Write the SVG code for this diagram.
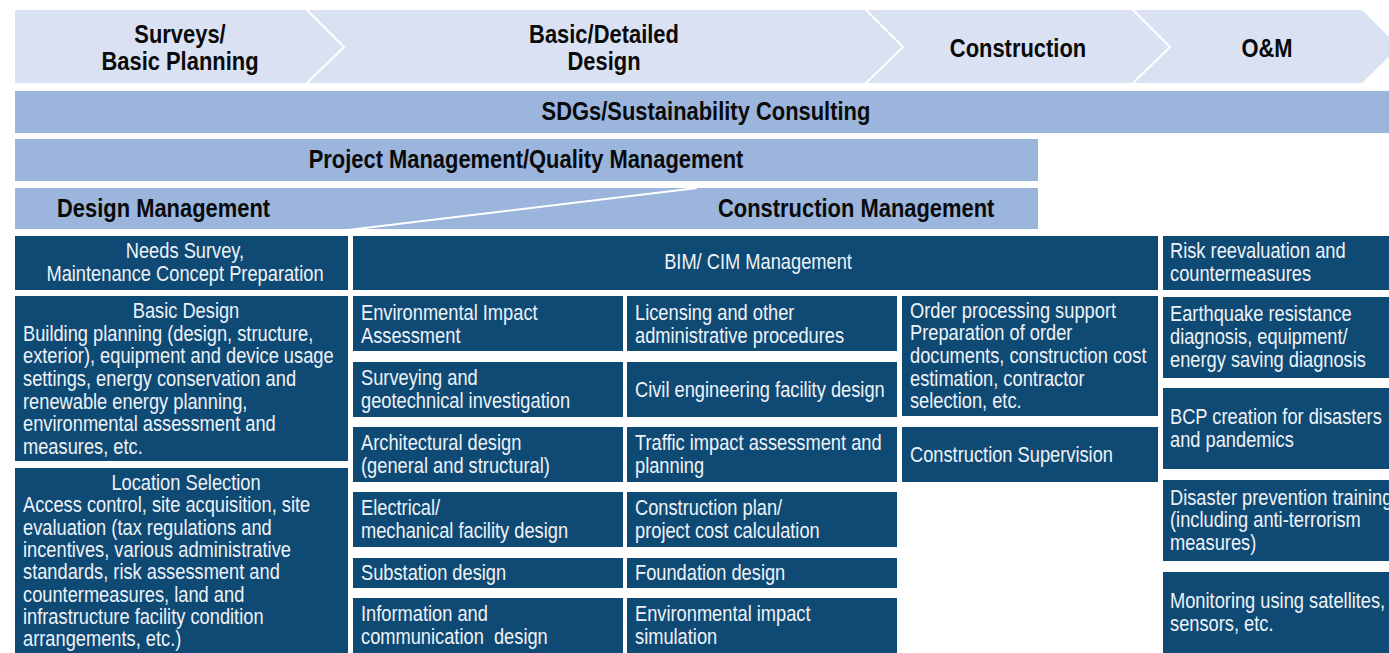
<svg xmlns="http://www.w3.org/2000/svg" width="1389" height="653" viewBox="0 0 1389 653">
<style>
.phase{fill:#d9e1f2}
.bar{fill:#9bb5dd}
.box{fill:#0f4a74}
.div{fill:none;stroke:#ffffff;stroke-width:2}
.h{font-family:"Liberation Sans",Arial,sans-serif;font-weight:bold;font-size:25.5px;fill:#0a0a0a;transform-box:fill-box;transform-origin:0 50%;transform:scaleX(0.86)}
.t{font-family:"Liberation Sans",Arial,sans-serif;font-size:21.5px;fill:#eef2f8;transform-box:fill-box;transform-origin:0 50%;transform:scaleX(0.85)}
.c{text-anchor:middle;transform-origin:50% 50%}
.pre{white-space:pre}
</style>
<rect width="1389" height="653" fill="#ffffff"/>
<g id="phases">
<polygon class="phase" points="15,10 1362,10 1399,47 1362,83 15,83"/>
<polyline class="div" points="306,9 344,47 306,84"/>
<polyline class="div" points="865,9 903,47 865,84"/>
<polyline class="div" points="1132,9 1170,47 1132,84"/>
<text class="h c" x="180" y="43">Surveys/</text>
<text class="h c" x="180" y="70">Basic Planning</text>
<text class="h c" x="604" y="43">Basic/Detailed</text>
<text class="h c" x="604" y="70">Design</text>
<text class="h c" x="1018" y="57">Construction</text>
<text class="h c" x="1267" y="57">O&amp;M</text>
</g>
<g id="sdgs">
<rect class="bar" x="15" y="91" width="1374" height="42"/>
<text class="h c" x="706" y="120">SDGs/Sustainability Consulting</text>
</g>
<g id="pm">
<rect class="bar" x="15" y="139" width="1023" height="42"/>
<text class="h c" x="526" y="168">Project Management/Quality Management</text>
</g>
<g id="dm-cm">
<rect class="bar" x="15" y="188" width="1023" height="41"/>
<line x1="348" y1="230" x2="697" y2="188" stroke="#ffffff" stroke-width="2"/>
<text class="h" x="57" y="217">Design Management</text>
<text class="h" x="718" y="217">Construction Management</text>
</g>
<g id="needs">
<rect class="box" x="15" y="236" width="333" height="54"/>
<text class="t c" x="185" y="258">Needs Survey,</text>
<text class="t c" x="185" y="281">Maintenance Concept Preparation</text>
</g>
<g id="basic-design">
<rect class="box" x="15" y="296" width="333" height="165"/>
<text class="t c" x="186" y="318">Basic Design</text>
<text class="t" x="23" y="341">Building planning (design, structure,</text>
<text class="t" x="23" y="363.5">exterior), equipment and device usage</text>
<text class="t" x="23" y="386">settings, energy conservation and</text>
<text class="t" x="23" y="409">renewable energy planning,</text>
<text class="t" x="23" y="431.5">environmental assessment and</text>
<text class="t" x="23" y="454">measures, etc.</text>
</g>
<g id="location">
<rect class="box" x="15" y="468" width="333" height="190"/>
<text class="t c" x="186" y="490">Location Selection</text>
<text class="t" x="23" y="512.5">Access control, site acquisition, site</text>
<text class="t" x="23" y="535">evaluation (tax regulations and</text>
<text class="t" x="23" y="557">incentives, various administrative</text>
<text class="t" x="23" y="579.5">standards, risk assessment and</text>
<text class="t" x="23" y="602">countermeasures, land and</text>
<text class="t" x="23" y="624.5">infrastructure facility condition</text>
<text class="t" x="23" y="646.5">arrangements, etc.)</text>
</g>
<g id="bim">
<rect class="box" x="353" y="236" width="805" height="54"/>
<text class="t c" x="758" y="269">BIM/ CIM Management</text>
</g>
<g id="env">
<rect class="box" x="353" y="296" width="270" height="55"/>
<text class="t" x="361" y="320">Environmental Impact</text>
<text class="t" x="361" y="343">Assessment</text>
</g>
<g id="surveying">
<rect class="box" x="353" y="362" width="270" height="55"/>
<text class="t" x="361" y="385">Surveying and</text>
<text class="t" x="361" y="408">geotechnical investigation</text>
</g>
<g id="architectural">
<rect class="box" x="353" y="427" width="270" height="55"/>
<text class="t" x="361" y="450">Architectural design</text>
<text class="t" x="361" y="473">(general and structural)</text>
</g>
<g id="electrical">
<rect class="box" x="353" y="492" width="270" height="55"/>
<text class="t" x="361" y="515">Electrical/</text>
<text class="t" x="361" y="538">mechanical facility design</text>
</g>
<g id="substation">
<rect class="box" x="353" y="558" width="270" height="30"/>
<text class="t" x="361" y="580">Substation design</text>
</g>
<g id="ict">
<rect class="box" x="353" y="598" width="270" height="60"/>
<text class="t" x="361" y="621">Information and</text>
<text class="t pre" x="361" y="644">communication  design</text>
</g>
<g id="licensing">
<rect class="box" x="627" y="296" width="270" height="55"/>
<text class="t" x="635" y="320">Licensing and other</text>
<text class="t" x="635" y="343">administrative procedures</text>
</g>
<g id="civil">
<rect class="box" x="627" y="362" width="270" height="55"/>
<text class="t" x="635" y="397">Civil engineering facility design</text>
</g>
<g id="traffic">
<rect class="box" x="627" y="427" width="270" height="55"/>
<text class="t" x="635" y="450">Traffic impact assessment and</text>
<text class="t" x="635" y="473">planning</text>
</g>
<g id="construction-plan">
<rect class="box" x="627" y="492" width="270" height="55"/>
<text class="t" x="635" y="515">Construction plan/</text>
<text class="t" x="635" y="538">project cost calculation</text>
</g>
<g id="foundation">
<rect class="box" x="627" y="558" width="270" height="30"/>
<text class="t" x="635" y="580">Foundation design</text>
</g>
<g id="env-sim">
<rect class="box" x="627" y="598" width="270" height="60"/>
<text class="t" x="635" y="621">Environmental impact</text>
<text class="t" x="635" y="644">simulation</text>
</g>
<g id="order">
<rect class="box" x="902" y="296" width="256" height="120"/>
<text class="t" x="910" y="318">Order processing support</text>
<text class="t" x="910" y="340.5">Preparation of order</text>
<text class="t" x="910" y="363">documents, construction cost</text>
<text class="t" x="910" y="386">estimation, contractor</text>
<text class="t" x="910" y="408.5">selection, etc.</text>
</g>
<g id="supervision">
<rect class="box" x="902" y="427" width="256" height="55"/>
<text class="t" x="910" y="462">Construction Supervision</text>
</g>
<g id="risk">
<rect class="box" x="1163" y="236" width="230" height="54"/>
<text class="t" x="1170" y="258">Risk reevaluation and</text>
<text class="t" x="1170" y="281">countermeasures</text>
</g>
<g id="earthquake">
<rect class="box" x="1163" y="297" width="230" height="81"/>
<text class="t" x="1170" y="321">Earthquake resistance</text>
<text class="t" x="1170" y="344">diagnosis, equipment/</text>
<text class="t" x="1170" y="367">energy saving diagnosis</text>
</g>
<g id="bcp">
<rect class="box" x="1163" y="388" width="230" height="81"/>
<text class="t" x="1170" y="424">BCP creation for disasters</text>
<text class="t" x="1170" y="447">and pandemics</text>
</g>
<g id="training">
<rect class="box" x="1163" y="480" width="230" height="81"/>
<text class="t" x="1170" y="505">Disaster prevention training</text>
<text class="t" x="1170" y="527.5">(including anti-terrorism</text>
<text class="t" x="1170" y="550">measures)</text>
</g>
<g id="monitoring">
<rect class="box" x="1163" y="572" width="230" height="86"/>
<text class="t" x="1170" y="608">Monitoring using satellites,</text>
<text class="t" x="1170" y="631">sensors, etc.</text>
</g>
<g id="connectors"/>
</svg>
